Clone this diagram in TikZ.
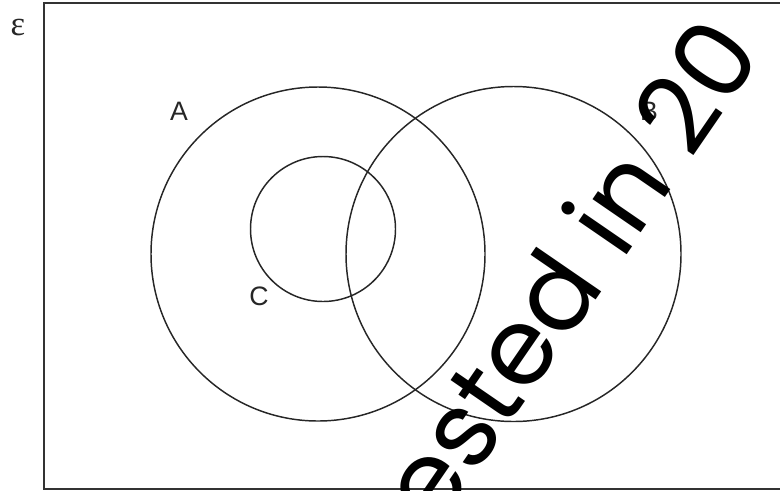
\documentclass[tikz,border=0pt]{standalone}
\usepackage{fontspec}
\setmainfont{Liberation Sans}
\newfontfamily\serifgreek{Liberation Serif}
\newfontfamily\wmfont{Poppins}
\begin{document}
\begin{tikzpicture}[x=0.75pt,y=-0.75pt]
\tikzset{
  setcircle/.style={circle, draw=black!85, line width=1.1pt, inner sep=0pt},
  setlabel/.style={font=\fontsize{20}{24}\selectfont, text=black!85, inner sep=0pt},
  watermark/.style={font=\wmfont\fontsize{80}{80}\selectfont, text=black, inner sep=0pt, anchor=base west, rotate=55.5}
}
\useasboundingbox (0,0) rectangle (780,490);
\clip (0,0) rectangle (780,490);
% universal set
\draw[line width=1.5pt, draw=black!80] (800,3) -- (43.5,3) -- (43.5,489) -- (800,489);
\node[font=\serifgreek\fontsize{26}{28}\selectfont, text=black!85, inner sep=0pt] (eps) at (18,27) {ε};
% sets
\node[setcircle, minimum size=250.5pt] (A) at (318,254) {};
\node[setcircle, minimum size=251.25pt] (B) at (513.5,254) {};
\node[setcircle, minimum size=108.75pt] (C) at (323,229) {};
\node[setlabel] (la) at (179,111) {A};
\node[setlabel] (lb) at (649,111) {B};
\node[setlabel] (lc) at (259,296) {C};
% watermark
\node[watermark] (wm) at (474,477) {\llap{Te}sted in 20};
\end{tikzpicture}
\end{document}
